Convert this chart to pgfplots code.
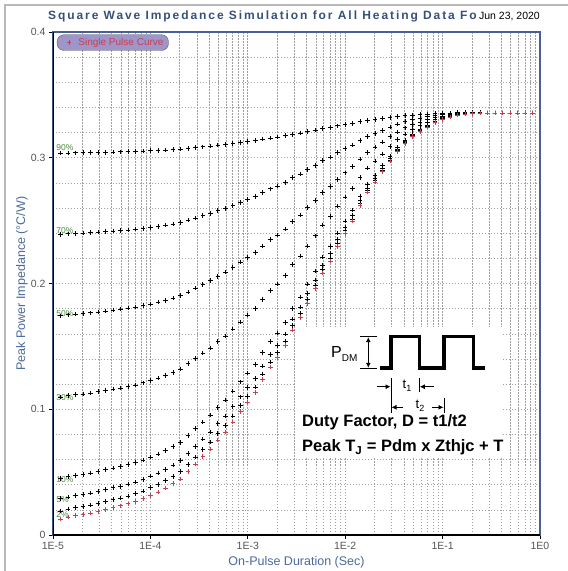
\documentclass[border=0pt]{standalone}
\usepackage{fontspec}
\setmainfont{Liberation Sans}
\newfontfamily\titlefont[LetterSpace=16]{Liberation Sans}
\usepackage{pgfplots}
\usepackage{pgfplotstable}
\pgfplotsset{compat=1.18}
\usetikzlibrary{arrows.meta}

\definecolor{titleblue}{HTML}{36507A}
\definecolor{labelblue}{HTML}{4A6A9C}
\definecolor{frameblue}{HTML}{4A6090}
\definecolor{gridgray}{HTML}{A0A0A0}
\definecolor{pulsered}{HTML}{C8404F}
\definecolor{pctgreen}{HTML}{4E8A3E}
\definecolor{legfill}{HTML}{9E95CB}
\definecolor{tickgray}{HTML}{555555}

% t [s], single pulse, then duty factors 2, 5, 10, 30, 50, 70, 90 %
\pgfplotstableread{
t s d2 d5 d10 d30 d50 d70 d90
1.1938e-5 0.0126 0.0191 0.0288 0.0449 0.1096 0.1743 0.2390 0.3037
1.4251e-5 0.0142 0.0206 0.0303 0.0464 0.1107 0.1751 0.2395 0.3038
1.7013e-5 0.0153 0.0217 0.0313 0.0474 0.1115 0.1757 0.2398 0.3039
2.0309e-5 0.0163 0.0227 0.0323 0.0483 0.1122 0.1762 0.2401 0.3040
2.4245e-5 0.0174 0.0238 0.0333 0.0493 0.1130 0.1767 0.2404 0.3041
2.8943e-5 0.0188 0.0251 0.0347 0.0505 0.1140 0.1774 0.2408 0.3043
3.4551e-5 0.0203 0.0266 0.0361 0.0519 0.1150 0.1782 0.2413 0.3044
4.1246e-5 0.0219 0.0282 0.0376 0.0533 0.1161 0.1790 0.2418 0.3046
4.9239e-5 0.0232 0.0295 0.0388 0.0545 0.1170 0.1796 0.2422 0.3047
5.8780e-5 0.0248 0.0310 0.0404 0.0559 0.1182 0.1804 0.2426 0.3049
7.0170e-5 0.0266 0.0328 0.0421 0.0575 0.1194 0.1813 0.2432 0.3051
8.3768e-5 0.0288 0.0349 0.0442 0.0595 0.1210 0.1824 0.2438 0.3053
1.0000e-4 0.0316 0.0377 0.0468 0.0620 0.1229 0.1838 0.2447 0.3056
1.1938e-4 0.0343 0.0403 0.0494 0.0645 0.1248 0.1852 0.2455 0.3058
1.4251e-4 0.0373 0.0433 0.0522 0.0672 0.1269 0.1867 0.2464 0.3061
1.7013e-4 0.0408 0.0467 0.0556 0.0703 0.1294 0.1884 0.2474 0.3065
2.0309e-4 0.0445 0.0503 0.0591 0.0737 0.1320 0.1903 0.2486 0.3069
2.4245e-4 0.0505 0.0562 0.0648 0.0791 0.1362 0.1933 0.2504 0.3075
2.8943e-4 0.0565 0.0621 0.0705 0.0845 0.1404 0.1963 0.2522 0.3081
3.4551e-4 0.0625 0.0680 0.0762 0.0899 0.1446 0.1993 0.2540 0.3087
4.1246e-4 0.0685 0.0739 0.0819 0.0953 0.1488 0.2023 0.2558 0.3093
4.9239e-4 0.0755 0.0807 0.0885 0.1016 0.1537 0.2058 0.2579 0.3100
5.8780e-4 0.0820 0.0871 0.0947 0.1074 0.1582 0.2090 0.2598 0.3106
7.0170e-4 0.0898 0.0947 0.1021 0.1144 0.1637 0.2129 0.2621 0.3114
8.3768e-4 0.0980 0.1028 0.1099 0.1218 0.1694 0.2170 0.2646 0.3122
1.0000e-3 0.1057 0.1103 0.1172 0.1287 0.1748 0.2209 0.2669 0.3130
1.1938e-3 0.1133 0.1178 0.1244 0.1356 0.1801 0.2247 0.2692 0.3137
1.4251e-3 0.1238 0.1280 0.1344 0.1450 0.1875 0.2299 0.2723 0.3148
1.7013e-3 0.1335 0.1376 0.1436 0.1538 0.1943 0.2348 0.2753 0.3158
2.0309e-3 0.1410 0.1449 0.1508 0.1605 0.1995 0.2385 0.2775 0.3165
2.4245e-3 0.1505 0.1542 0.1598 0.1691 0.2062 0.2433 0.2804 0.3175
2.8943e-3 0.1630 0.1665 0.1717 0.1803 0.2149 0.2495 0.2841 0.3187
3.4551e-3 0.1730 0.1763 0.1812 0.1893 0.2219 0.2545 0.2871 0.3197
4.1246e-3 0.1843 0.1873 0.1919 0.1995 0.2298 0.2602 0.2905 0.3208
4.9239e-3 0.1958 0.1986 0.2028 0.2098 0.2379 0.2659 0.2939 0.3220
5.8780e-3 0.2083 0.2109 0.2147 0.2211 0.2466 0.2722 0.2977 0.3232
7.0170e-3 0.2178 0.2202 0.2237 0.2296 0.2533 0.2769 0.3005 0.3242
8.3768e-3 0.2295 0.2316 0.2348 0.2402 0.2615 0.2828 0.3041 0.3254
1.0000e-2 0.2400 0.2419 0.2448 0.2496 0.2688 0.2880 0.3072 0.3264
1.1938e-2 0.2497 0.2514 0.2540 0.2583 0.2756 0.2929 0.3101 0.3274
1.4251e-2 0.2622 0.2637 0.2659 0.2696 0.2843 0.2991 0.3139 0.3286
1.7013e-2 0.2728 0.2741 0.2760 0.2791 0.2918 0.3044 0.3170 0.3297
2.0309e-2 0.2807 0.2818 0.2835 0.2862 0.2973 0.3084 0.3194 0.3305
2.4245e-2 0.2890 0.2899 0.2914 0.2937 0.3031 0.3125 0.3219 0.3313
2.8943e-2 0.2975 0.2983 0.2994 0.3014 0.3091 0.3168 0.3245 0.3322
3.4551e-2 0.3050 0.3056 0.3066 0.3081 0.3143 0.3205 0.3267 0.3329
4.1246e-2 0.3115 0.3120 0.3127 0.3140 0.3189 0.3238 0.3287 0.3336
4.9239e-2 0.3170 0.3174 0.3180 0.3189 0.3227 0.3265 0.3303 0.3341
5.8780e-2 0.3210 0.3213 0.3218 0.3225 0.3255 0.3285 0.3315 0.3345
7.0170e-2 0.3245 0.3247 0.3251 0.3257 0.3280 0.3303 0.3326 0.3349
8.3768e-2 0.3280 0.3282 0.3284 0.3288 0.3304 0.3320 0.3336 0.3352
1.0000e-1 0.3305 0.3306 0.3308 0.3311 0.3322 0.3333 0.3344 0.3355
1.1938e-1 0.3325 0.3326 0.3327 0.3329 0.3336 0.3343 0.3350 0.3357
1.4251e-1 0.3340 0.3340 0.3341 0.3342 0.3346 0.3350 0.3354 0.3358
1.7013e-1 0.3347 0.3347 0.3348 0.3348 0.3351 0.3354 0.3356 0.3359
2.0309e-1 0.3352 0.3352 0.3352 0.3353 0.3354 0.3356 0.3358 0.3359
2.4245e-1 0.3355 0.3355 0.3355 0.3355 0.3356 0.3357 0.3358 0.3360
2.8943e-1 0.3356 0.3356 0.3356 0.3356 0.3356 0.3356 0.3356 0.3356
3.4551e-1 0.3356 0.3356 0.3356 0.3356 0.3356 0.3356 0.3356 0.3356
4.1246e-1 0.3356 0.3356 0.3356 0.3356 0.3356 0.3356 0.3356 0.3356
4.9239e-1 0.3356 0.3356 0.3356 0.3356 0.3356 0.3356 0.3356 0.3356
5.8780e-1 0.3356 0.3356 0.3356 0.3356 0.3356 0.3356 0.3356 0.3356
7.0170e-1 0.3356 0.3356 0.3356 0.3356 0.3356 0.3356 0.3356 0.3356
8.3768e-1 0.3356 0.3356 0.3356 0.3356 0.3356 0.3356 0.3356 0.3356
}\zth

\begin{document}
\begin{tikzpicture}[x=1pt,y=1pt]
\useasboundingbox (-53,-36) rectangle (515,535);
\draw[gray!55, line width=1.5pt] (-48,-36) -- (-48,530) -- (515,530);
\begin{axis}[
  at={(0,0)}, anchor=south west,
  width=487pt, height=503pt, scale only axis,
  xmode=log, xmin=1e-5, xmax=1, ymin=0, ymax=0.4,
  xtick={1e-5,1e-4,1e-3,1e-2,1e-1,1},
  xticklabels={1E-5,1E-4,1E-3,1E-2,1E-1,1E0},
  ytick={0,0.1,0.2,0.3,0.4},
  yticklabels={0,0.1,0.2,0.3,0.4},
  minor y tick num=4,
  grid=both,
  major grid style={gridgray, dash pattern=on 1.5pt off 1.5pt, line width=0.6pt},
  minor grid style={gridgray, dash pattern=on 1.5pt off 1.5pt, line width=0.6pt},
  axis line style={frameblue, line width=1.3pt},
  tick align=outside, xtick pos=bottom, ytick pos=left,
  major tick length=4pt, minor tick length=0pt,
  tick style={black, line width=0.9pt},
  ticklabel style={text=tickgray, font=\fontsize{10.5}{12}\selectfont},
  xlabel={On-Pulse Duration (Sec)},
  ylabel={Peak Power Impedance (°C/W)},
  label style={text=labelblue, font=\fontsize{12.5}{14}\selectfont},
  xlabel style={at={(axis description cs:0.5,-0.054)}, anchor=center},
  ylabel style={at={(axis description cs:-0.064,0.5)}, anchor=center},
  legend style={at={(axis description cs:0.008,0.995)}, anchor=north west,
    fill=legfill, draw=gray!70!black, rounded corners=7pt,
    font=\fontsize{10}{11}\selectfont, text=pulsered, inner xsep=3pt, inner ysep=1.5pt,
    legend cell align=left},
  legend image code/.code={\path (0cm,0cm) (0.55cm,0cm); \draw plot coordinates {(0.3cm,0cm)};},
  every axis plot/.append style={only marks, mark=+, mark size=2.3pt, line width=0.7pt},
]
\addplot[black, forget plot] table[x=t, y=d90] {\zth};
\addplot[black, forget plot] table[x=t, y=d70] {\zth};
\addplot[black, forget plot] table[x=t, y=d50] {\zth};
\addplot[black, forget plot] table[x=t, y=d30] {\zth};
\addplot[black, forget plot] table[x=t, y=d10] {\zth};
\addplot[black, forget plot] table[x=t, y=d5] {\zth};
\addplot[black, forget plot] table[x=t, y=d2] {\zth};
\addplot[pulsered] table[x=t, y=s] {\zth};
\addlegendentry{Single Pulse Curve}

\begin{scope}[every node/.style={text=pctgreen, font=\fontsize{8.5}{9}\selectfont, anchor=west, inner sep=0pt}]
\node at (axis cs:1.08e-5,0.308) {90\%};
\node at (axis cs:1.08e-5,0.242) {70\%};
\node at (axis cs:1.08e-5,0.176) {50\%};
\node at (axis cs:1.08e-5,0.109) {30\%};
\node at (axis cs:1.08e-5,0.044) {10\%};
\node at (axis cs:1.08e-5,0.028) {5\%};
\node at (axis cs:1.08e-5,0.016) {2\%};
\end{scope}

\draw[black, line width=1.6pt] (rel axis cs:0,1) -- (rel axis cs:0,0) -- (rel axis cs:1,0);
\end{axis}

% overlay drawn in image pixel positions
\begin{scope}[shift={(-53pt,535pt)}, x=1pt, y=-1pt]
\node[anchor=base west, inner sep=0pt, text=titleblue] at (48,20)
  {\titlefont\bfseries\fontsize{12}{14}\selectfont Square Wave Impedance Simulation for All Heating Data Fo};
\node[anchor=base east, inner sep=0pt] at (540,20)
  {\fontsize{10.5}{12}\selectfont Jun 23, 2020};

% inset
\fill[white] (295,327) rectangle (503,457);
\draw[line width=3.6pt, line join=miter] (380,368.3) -| (391,336.7) -| (419.3,368.3) -| (444,336.7) -| (473.3,368.3) -- (485,368.3);
\draw[line width=0.9pt] (360,336.7) -- (377,336.7);
\draw[line width=0.9pt] (360,368.3) -- (377,368.3);
\draw[line width=0.9pt, {Latex[length=5pt,width=5pt]}-{Latex[length=5pt,width=5pt]}] (368.3,337.2) -- (368.3,367.8);
\node[anchor=base west, inner sep=0pt] at (331,357.5)
  {\fontsize{16}{16}\selectfont P\fontsize{10}{10}\selectfont\raisebox{-4pt}{DM}};
\draw[line width=0.8pt] (391,378) -- (391,413);
\draw[line width=0.8pt] (419.3,378) -- (419.3,392);
\draw[line width=0.8pt] (444,398) -- (444,413);
\draw[line width=0.8pt, -{Latex[length=5pt,width=5pt]}] (377,386.7) -- (390.5,386.7);
\draw[line width=0.8pt, -{Latex[length=5pt,width=5pt]}] (434,386.7) -- (419.8,386.7);
\draw[line width=0.8pt, -{Latex[length=5pt,width=5pt]}] (403,407.3) -- (391.5,407.3);
\draw[line width=0.8pt, -{Latex[length=5pt,width=5pt]}] (432,407.3) -- (443.5,407.3);
\node[inner sep=0pt] at (407,386) {\fontsize{13}{13}\selectfont t\fontsize{9}{9}\selectfont\raisebox{-2.5pt}{1}};
\node[inner sep=0pt] at (420,406) {\fontsize{13}{13}\selectfont t\fontsize{9}{9}\selectfont\raisebox{-2.5pt}{2}};
\node[anchor=base west, inner sep=0pt] at (302,426.7)
  {\bfseries\fontsize{16.5}{18}\selectfont Duty Factor, D = t1/t2};
\node[anchor=base west, inner sep=0pt] at (302,451.7)
  {\bfseries\fontsize{16.5}{18}\selectfont Peak T\textsubscript{J} = Pdm x Zthjc + T};
\end{scope}
\end{tikzpicture}
\end{document}
